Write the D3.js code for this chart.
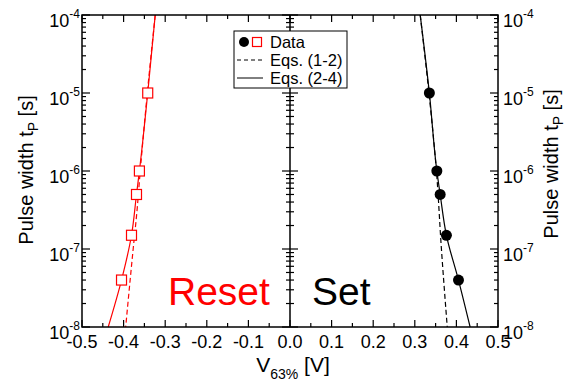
<!DOCTYPE html>
<html><head><meta charset="utf-8">
<script src="https://cdn.jsdelivr.net/npm/d3@7"></script>
<style>body{margin:0;background:#fff}svg{display:block;font-family:"Liberation Sans",Arial,sans-serif}</style>
</head><body><svg id="c" width="577" height="384"></svg>
<script>
// Data (V in volts, t in seconds)
const resetV = [-0.342, -0.362, -0.369, -0.381, -0.405];
const resetT = [1e-5, 1e-6, 5e-7, 1.5e-7, 4e-8];
const setV   = [0.335, 0.353, 0.361, 0.376, 0.405];
const setT   = [1e-5, 1e-6, 5e-7, 1.5e-7, 4e-8];
// Model curves: Eqs. (2-4) solid, Eqs. (1-2) dashed
const resetSolidV = [-0.324, -0.342, -0.362, -0.369, -0.381, -0.405, -0.437];
const resetSolidT = [1e-4, 1e-5, 1e-6, 5e-7, 1.5e-7, 4e-8, 1e-8];
const resetDashV  = [-0.324, -0.343, -0.360, -0.368, -0.377, -0.395];
const resetDashT  = [1e-4, 1e-5, 1e-6, 3e-7, 1e-7, 1e-8];
const setSolidV = [0.313, 0.335, 0.353, 0.361, 0.376, 0.405, 0.433];
const setSolidT = [1e-4, 1e-5, 1e-6, 5e-7, 1.5e-7, 4e-8, 1e-8];
const setDashV  = [0.313, 0.334, 0.352, 0.364, 0.378];
const setDashT  = [1e-4, 1e-5, 1e-6, 1e-7, 1e-8];
const xTicks = [-0.5,-0.4,-0.3,-0.2,-0.1,0.0,0.1,0.2,0.3,0.4,0.5];
const xTickLabels = ["-0.5","-0.4","-0.3","-0.2","-0.1","0.0","0.1","0.2","0.3","0.4","0.5"];
const yDecades = [1e-8,1e-7,1e-6,1e-5,1e-4];
const yExponents = ["-8","-7","-6","-5","-4"];
const legendLabels = ["Data","Eqs. (1-2)","Eqs. (2-4)"];

const svg = d3.select("#c");
const L=82, R=498, T=15, B=327;
const x = d3.scaleLinear().domain([-0.5,0.5]).range([L,R]);
const y = d3.scaleLog().domain([1e-8,1e-4]).range([B,T]);
const red = "#ff0000";

// curves
const line = d3.line().x(d=>x(d[0])).y(d=>y(d[1])).curve(d3.curveMonotoneY);
function drawCurve(vs, ts, color, dash){
  const pts = vs.map((v,i)=>[v,ts[i]]);
  svg.append("path").attr("d", line(pts)).attr("fill","none").attr("stroke",color)
    .attr("stroke-width",1.2).attr("stroke-dasharray", dash?"5,3":null);
}
drawCurve(resetDashV, resetDashT, red, true);
drawCurve(resetSolidV, resetSolidT, red, false);
drawCurve(setDashV, setDashT, "#000", true);
drawCurve(setSolidV, setSolidT, "#000", false);

// frame
svg.append("rect").attr("x",L).attr("y",T).attr("width",R-L).attr("height",B-T)
  .attr("fill","none").attr("stroke","#000").attr("stroke-width",1.5);
// zero line
svg.append("line").attr("x1",x(0)).attr("x2",x(0)).attr("y1",T).attr("y2",B).attr("stroke","#000").attr("stroke-width",1.5);

// x ticks
const xMinor = d3.range(-0.45,0.5,0.1);
function xt(v,len){
  svg.append("line").attr("x1",x(v)).attr("x2",x(v)).attr("y1",B).attr("y2",B-len).attr("stroke","#000").attr("stroke-width",1.2);
  svg.append("line").attr("x1",x(v)).attr("x2",x(v)).attr("y1",T).attr("y2",T+len).attr("stroke","#000").attr("stroke-width",1.2);
}
xTicks.forEach(v=>xt(v,7));
xMinor.forEach(v=>xt(v,4));
xTicks.forEach((v,i)=>{
  svg.append("text").attr("x",x(v)).attr("y",348).attr("text-anchor","middle")
    .attr("font-size",18).text(xTickLabels[i]);
});

// y ticks
const yMinor = [];
for(let e=-8;e<-4;e++) for(let k=2;k<=9;k++) yMinor.push(k*Math.pow(10,e));
function yt(v,len){
  const yy=y(v);
  svg.append("line").attr("x1",L).attr("x2",L+len).attr("y1",yy).attr("y2",yy).attr("stroke","#000").attr("stroke-width",1.2);
  svg.append("line").attr("x1",R).attr("x2",R-len).attr("y1",yy).attr("y2",yy).attr("stroke","#000").attr("stroke-width",1.2);
  svg.append("line").attr("x1",x(0)-len).attr("x2",x(0)+len).attr("y1",yy).attr("y2",yy).attr("stroke","#000").attr("stroke-width",1.2);
}
yDecades.forEach(v=>yt(v,8));
yMinor.forEach(v=>yt(v,4));
yDecades.forEach((v,i)=>{
  const yy=y(v);
  const tl = svg.append("text").attr("x",L-2).attr("y",yy+12).attr("text-anchor","end").attr("font-size",18);
  tl.append("tspan").text("10");
  tl.append("tspan").attr("font-size",12).attr("dy",-9).text(yExponents[i]);
  const tr = svg.append("text").attr("x",R+5).attr("y",yy+12).attr("text-anchor","start").attr("font-size",18);
  tr.append("tspan").text("10");
  tr.append("tspan").attr("font-size",12).attr("dy",-9).text(yExponents[i]);
});

// axis titles
function yTitle(tx, ty){
  const t = svg.append("text").attr("transform",`translate(${tx},${ty}) rotate(-90)`)
    .attr("text-anchor","middle").attr("font-size",20);
  t.append("tspan").text("Pulse width t");
  t.append("tspan").attr("font-size",14).attr("dy",5).text("P");
  t.append("tspan").attr("dy",-5).text(" [s]");
}
yTitle(33,170);
yTitle(558,164);
const xl = svg.append("text").attr("x",293).attr("y",372).attr("text-anchor","middle").attr("font-size",21);
xl.append("tspan").text("V");
xl.append("tspan").attr("font-size",14).attr("dy",7).text("63%");
xl.append("tspan").attr("dy",-7).text(" [V]");

// data markers
resetV.forEach((v,i)=>{
  svg.append("rect").attr("x",x(v)-5).attr("y",y(resetT[i])-5).attr("width",10).attr("height",10)
    .attr("fill","#fff").attr("stroke",red).attr("stroke-width",1.2);
});
setV.forEach((v,i)=>{
  svg.append("circle").attr("cx",x(v)).attr("cy",y(setT[i])).attr("r",5.5).attr("fill","#000");
});

// labels
svg.append("text").attr("x",168).attr("y",305).attr("font-size",39).attr("fill",red).text("Reset");
svg.append("text").attr("x",312).attr("y",305).attr("font-size",39).attr("fill","#000").text("Set");

// legend
svg.append("rect").attr("x",234).attr("y",31).attr("width",113).attr("height",57)
  .attr("fill","#fff").attr("stroke","#000").attr("stroke-width",1);
svg.append("circle").attr("cx",244).attr("cy",42).attr("r",5).attr("fill","#000");
svg.append("rect").attr("x",252.5).attr("y",37.5).attr("width",9).attr("height",9).attr("fill","#fff").attr("stroke",red).attr("stroke-width",1.2);
svg.append("line").attr("x1",237).attr("x2",263).attr("y1",60).attr("y2",60).attr("stroke","#000").attr("stroke-width",1).attr("stroke-dasharray","4,3");
svg.append("line").attr("x1",237).attr("x2",263).attr("y1",78).attr("y2",78).attr("stroke","#000").attr("stroke-width",1);
legendLabels.forEach((s,i)=>{
  svg.append("text").attr("x",270).attr("y",48+i*18).attr("font-size",16.5).text(s);
});
</script></body></html>
